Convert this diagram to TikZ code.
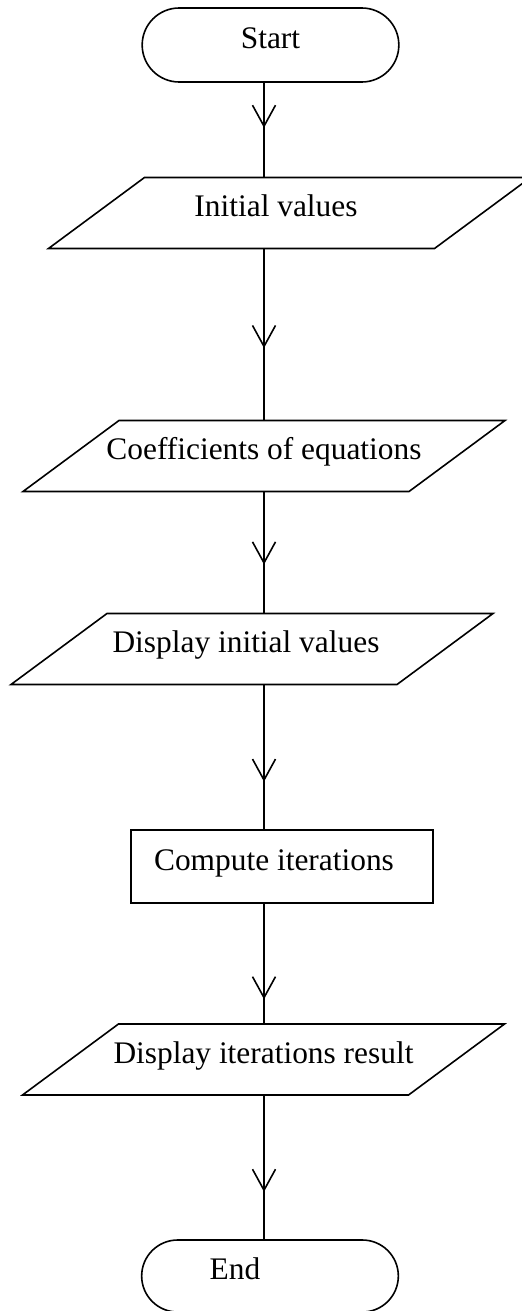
\documentclass[tikz,border=0pt]{standalone}
\usepackage{fontspec}
\setmainfont{Liberation Serif}
\usetikzlibrary{shapes.geometric}
\usetikzlibrary{shapes.misc}
\usetikzlibrary{arrows.meta}
\usetikzlibrary{decorations.markings}

\tikzset{
  terminal/.style={draw, rounded rectangle, minimum width=135pt, minimum height=37pt},
  iobox/.style={draw, trapezium, trapezium left angle=23.8, trapezium right angle=156.2,
    trapezium stretches body, minimum width=241pt, minimum height=35.5pt,
    execute at begin node={\hbox to 0pt\bgroup\hss},
    execute at end node={\hspace*{#1}\hss\egroup}},
  iobox/.default=0pt,
  procbox/.style={draw, rectangle, minimum width=151pt, minimum height=36.5pt},
  flow/.style={postaction={decorate, decoration={markings,
    mark=at position #1 with {\arrow{Straight Barb[length=10.5pt,width=11.5pt]}}}}},
  lshift/.style={execute at end node={\hspace*{#1}}}
}

\begin{document}
\begin{tikzpicture}[x=0.5pt, y=-0.5pt, line width=0.8pt, font=\fontsize{15.7}{18}\selectfont,
    text height=9pt, text depth=5.5pt]
  \useasboundingbox (0,0) rectangle (522,1311);
  \coordinate (spine) at (264,0);

  \node[terminal] (start) at (270.5,45) {Start};
  \node[iobox=13.5pt] (init) at (289.5,213) {Initial values};
  \node[iobox] (coef) at (264,456) {Coefficients of equations};
  \node[iobox=6pt] (dispinit) at (252,649) {Display initial values};
  \node[procbox, lshift=8pt] (comp) at (282,866.5) {Compute iterations};
  \node[iobox] (dispres) at (263.5,1059.5) {Display iterations result};
  \node[terminal, minimum height=36pt, lshift=35pt] (end) at (270,1276) {End};

  \draw[flow=0.48] (start.south -| spine) -- (init.north -| spine);
  \draw[flow=0.58] (init.south -| spine) -- (coef.north -| spine);
  \draw[flow=0.60] (coef.south -| spine) -- (dispinit.north -| spine);
  \draw[flow=0.67] (dispinit.south -| spine) -- (comp.north -| spine);
  \draw[flow=0.80] (comp.south -| spine) -- (dispres.north -| spine);
  \draw[flow=0.67] (dispres.south -| spine) -- (end.north -| spine);
\end{tikzpicture}
\end{document}
